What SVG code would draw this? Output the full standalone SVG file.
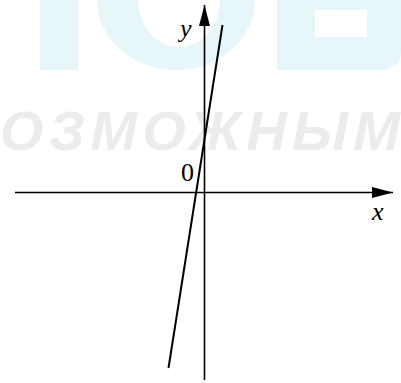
<svg xmlns="http://www.w3.org/2000/svg" width="401" height="383" viewBox="0 0 401 383">
<style>
.wm-c{fill:#e7f6f8;stroke:none}
.wm-t{fill:#ececec;font-family:"Liberation Sans",Arial,sans-serif;font-weight:bold;font-style:italic;font-size:56px}
.axis{stroke:#000;stroke-width:1.6;fill:none}
.graph{stroke:#000;stroke-width:2;fill:none}
.lbl{font-family:"Liberation Serif","Times New Roman",serif;font-size:26px;fill:#000}
.it{font-style:italic}
</style>
<defs>
<marker id="arr" markerUnits="userSpaceOnUse" markerWidth="22" markerHeight="12" refX="21" refY="6" orient="auto">
<path d="M0,0.5 L21,6 L0,11.5 Z" fill="#000"/>
</marker>
</defs>
<g id="watermark">
<rect class="wm-c" x="40" y="0" width="38" height="70"/>
<path class="wm-c" fill-rule="evenodd" d="M97,0 A79,70 0 0 0 255,0 Z M138,0 A41,47 0 0 0 220,0 Z"/>
<path class="wm-c" fill-rule="evenodd" d="M277,0 H401 V50 Q401,70 381,70 H277 Z M315,10 H367 V37 H315 Z"/>
<text class="wm-t" x="0" y="150" textLength="400" lengthAdjust="spacing">ОЗМОЖНЫМ</text>
</g>
<g id="connectors">
<line id="x-axis" class="axis" x1="15" y1="192.5" x2="393" y2="192.5" marker-end="url(#arr)"/>
<line id="y-axis" class="axis" x1="204.5" y1="380" x2="204.5" y2="5" marker-end="url(#arr)"/>
<line id="graph-line" class="graph" x1="222.5" y1="25" x2="168.5" y2="368"/>
</g>
<g id="label-y"><text class="lbl it" x="180" y="37">y</text></g>
<g id="label-0"><text class="lbl" x="181" y="181">0</text></g>
<g id="label-x"><text class="lbl it" x="372" y="220">x</text></g>
</svg>
